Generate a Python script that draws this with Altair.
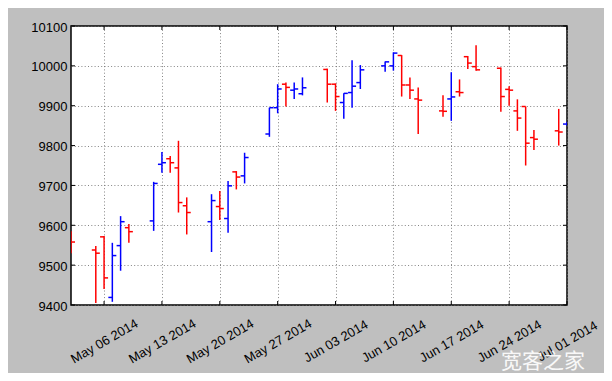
import altair as alt
import pandas as pd

# ---- data ----
dates = [
    "2014-05-02", "2014-05-05", "2014-05-06", "2014-05-07", "2014-05-08", "2014-05-09",
    "2014-05-12", "2014-05-13", "2014-05-14", "2014-05-15", "2014-05-16",
    "2014-05-19", "2014-05-20", "2014-05-21", "2014-05-22", "2014-05-23",
    "2014-05-26", "2014-05-27", "2014-05-28", "2014-05-29", "2014-05-30",
    "2014-06-02", "2014-06-03", "2014-06-04", "2014-06-05", "2014-06-06",
    "2014-06-09", "2014-06-10", "2014-06-11", "2014-06-12", "2014-06-13",
    "2014-06-16", "2014-06-17", "2014-06-18", "2014-06-19", "2014-06-20",
    "2014-06-23", "2014-06-24", "2014-06-25", "2014-06-26", "2014-06-27",
    "2014-06-30", "2014-07-01",
]
opens = [
    9572, 9538, 9571, 9419, 9549, 9594,
    9611, 9753, 9767, 9744, 9649,
    9609, 9647, 9617, 9734, 9724,
    9829, 9895, 9954, 9939, 9930,
    9991, 9954, 9908, 9933, 9958,
    10000, 10000, 10026, 9952, 9917,
    9887, 9917, 9935, 10023, 9998,
    9994, 9941, 9887, 9898, 9820,
    9837, 9854,
]
highs = [
    9585, 9548, 9573, 9556, 9623, 9603,
    9709, 9784, 9774, 9812, 9670,
    9678, 9686, 9711, 9736, 9782,
    9895, 9954, 9958, 9958, 9971,
    9993, 9956, 9931, 10014, 10002,
    10011, 10034, 10027, 9971, 9946,
    9926, 9984, 9966, 10025, 10052,
    9996, 9949, 9916, 9898, 9839,
    9892, 9860,
]
lows = [
    9530, 9405, 9440, 9408, 9486, 9556,
    9586, 9732, 9732, 9632, 9577,
    9533, 9613, 9581, 9690, 9705,
    9822, 9881, 9898, 9917, 9926,
    9908, 9887, 9867, 9895, 9942,
    9985, 9988, 9923, 9917, 9829,
    9872, 9862, 9923, 9992, 9988,
    9885, 9900, 9837, 9750, 9789,
    9800, 9850,
]
closes = [
    9558, 9530, 9468, 9524, 9609, 9584,
    9705, 9757, 9757, 9657, 9632,
    9662, 9642, 9699, 9721, 9770,
    9895, 9942, 9946, 9942, 9945,
    9954, 9923, 9931, 9949, 9990,
    10010, 10032, 9952, 9939, 9914,
    9886, 9922, 9933, 10007, 9990,
    9923, 9939, 9869, 9806, 9816,
    9834, 9858,
]
start_date = "2014-05-02"
end_date = "2014-07-01"
tick_dates = ["2014-05-06", "2014-05-13", "2014-05-20", "2014-05-27", "2014-06-03",
              "2014-06-10", "2014-06-17", "2014-06-24", "2014-07-01"]
tick_labels = ["May 06 2014", "May 13 2014", "May 20 2014", "May 27 2014", "Jun 03 2014",
               "Jun 10 2014", "Jun 17 2014", "Jun 24 2014", "Jul 01 2014"]
y_ticks = [9400, 9500, 9600, 9700, 9800, 9900, 10000, 10100]
watermark = ["宽客之家"]

# ---- build tables ----
t0 = pd.Timestamp(start_date)
def day_of(s):
    return int((pd.Timestamp(s) - t0).days)

df = pd.DataFrame({
    "date": dates, "open": opens, "high": highs, "low": lows, "close": closes,
})
df["day"] = [day_of(d) for d in dates]
df["dir"] = ["up" if c >= o else "down" for o, c in zip(opens, closes)]

tick_days = [day_of(d) for d in tick_dates]
xtick_df = pd.DataFrame({"d": tick_days})
ytick_df = pd.DataFrame({"v": y_ticks})
wm_df = pd.DataFrame({"t": watermark})

W, H = 496, 279
END = day_of(end_date)

label_expr = "[" + ",".join("'%s'" % s for s in tick_labels) + "][indexof([" + \
    ",".join(str(v) for v in tick_days) + "], datum.value)]"

xscale = alt.Scale(domain=[0, END], nice=False, zero=False)
yscale = alt.Scale(domain=[y_ticks[0], y_ticks[-1]], nice=False, zero=False)

x_axis = alt.Axis(
    values=tick_days, labelExpr=label_expr, title=None, grid=True,
    ticks=False, tickSize=0, domain=False,
    labelAngle=330, labelAlign="center", labelBaseline="middle",
    labelPadding=36, labelFontSize=13, labelFlush=False, labelOverlap=False,
    gridColor="#666666", gridDash=[1, 2.3], gridWidth=0.8,
)
y_axis = alt.Axis(
    values=y_ticks, format="d", title=None, grid=True,
    ticks=False, tickSize=0, domain=False, labelPadding=4, labelOffset=1,
    labelFontSize=13, labelFlush=False, labelOverlap=False,
    gridColor="#666666", gridDash=[1, 2.3], gridWidth=0.8,
)

def X(field):
    return alt.X(field, type="quantitative", scale=xscale, axis=x_axis)

def Y(field):
    return alt.Y(field, type="quantitative", scale=yscale, axis=y_axis)

color = alt.Color("dir:N", scale=alt.Scale(domain=["up", "down"], range=["#0000ff", "#ff0000"]),
                  legend=None)

base = alt.Chart(df)

hl = base.mark_rule(strokeWidth=1.5, clip=True).encode(
    x=X("day"), y=Y("high"), y2="low", color=color)

open_tick = base.mark_rule(strokeWidth=1.5, clip=True, xOffset=-4).encode(
    x=X("day"), x2="day", y=Y("open"), color=color)

close_tick = base.mark_rule(strokeWidth=1.5, clip=True, x2Offset=4).encode(
    x=X("day"), x2="day", y=Y("close"), color=color)

ytl = alt.Chart(ytick_df).mark_rule(color="black", strokeWidth=1).encode(
    y=Y("v"), x=alt.value(0), x2=alt.value(4))
ytr = alt.Chart(ytick_df).mark_rule(color="black", strokeWidth=1).encode(
    y=Y("v"), x=alt.value(W - 4), x2=alt.value(W))
xtt = alt.Chart(xtick_df).mark_rule(color="black", strokeWidth=1).encode(
    x=X("d"), y=alt.value(0), y2=alt.value(4))
xtb = alt.Chart(xtick_df).mark_rule(color="black", strokeWidth=1).encode(
    x=X("d"), y=alt.value(H - 4), y2=alt.value(H))

wm = alt.Chart(wm_df).mark_text(
    align="left", baseline="middle", font="Noto Sans CJK SC", fontSize=21,
    color="white", opacity=0.9,
).encode(x=alt.value(430), y=alt.value(336), text="t:N")

chart = alt.layer(hl, open_tick, close_tick, ytl, ytr, xtt, xtb, wm).properties(
    width=W, height=H,
    autosize=alt.AutoSizeParams(type="none"),
    padding={"left": 63, "top": 18, "right": 37, "bottom": 68},
    background="#bfbfbf",
).configure_view(
    stroke="black", strokeWidth=1.5, fill="white",
).configure_axis(
    labelFont="Liberation Sans", labelColor="black",
)

chart.save("out.html", embed_options={"renderer": "svg", "actions": False})
